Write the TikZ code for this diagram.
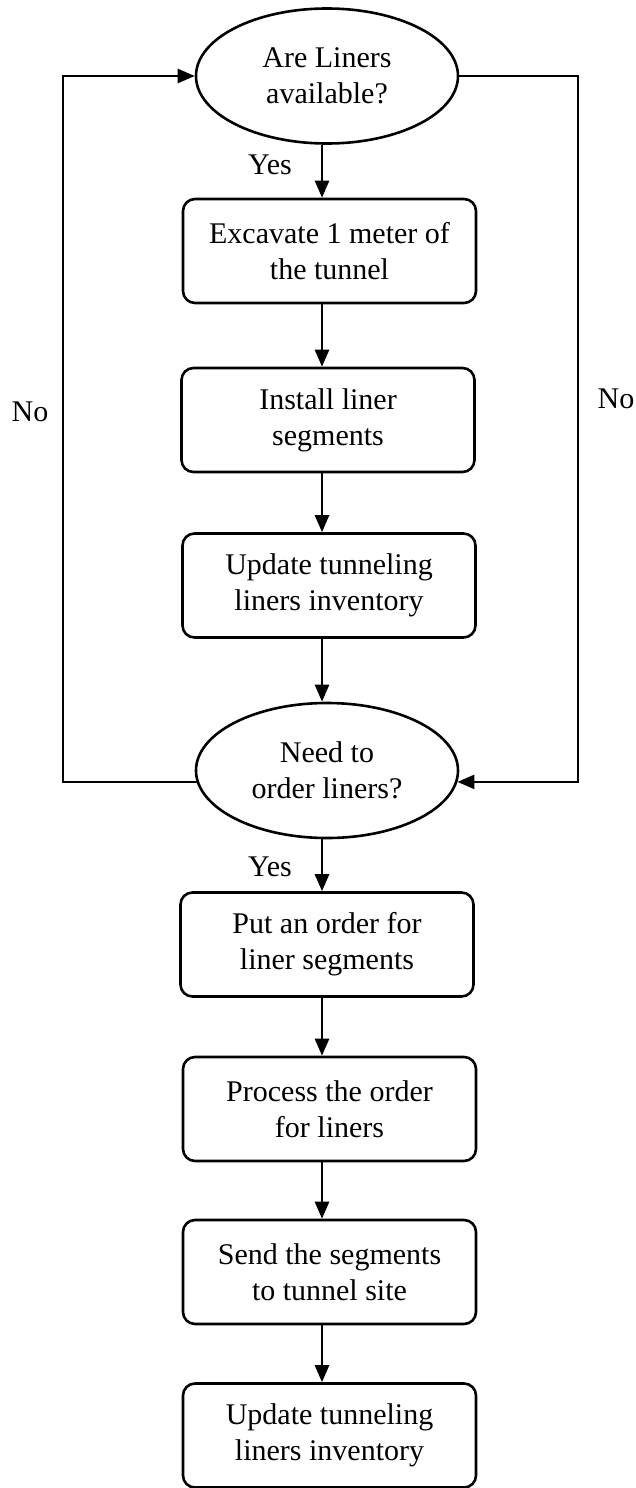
\documentclass[tikz,border=0pt]{standalone}
\usepackage{fontspec}
\setmainfont{Liberation Serif}
\usetikzlibrary{shapes.geometric,arrows.meta,calc}
\begin{document}
\begin{tikzpicture}[x=1pt,y=-1pt,
  txt/.style={font=\fontsize{30}{36}\selectfont},
  decision/.style={ellipse,draw,line width=2.6pt,minimum width=262pt,minimum height=135pt,inner sep=0pt,align=center,txt},
  proc/.style={rectangle,rounded corners=12pt,draw,line width=2.6pt,minimum width=293pt,minimum height=104pt,inner sep=0pt,align=center,txt},
  lbl/.style={txt,inner sep=0pt},
  flow/.style={line width=2.6pt,line join=miter,-{Triangle[length=17pt,width=14pt]}}]
\useasboundingbox (0,0) rectangle (636,1488);
\node[decision] (q1) at (327,76) {Are Liners\\available?};
\node[proc] (p1) at (329.5,251) {Excavate 1 meter of\\the tunnel};
\node[proc] (p2) at (328,420) {Install liner\\segments};
\node[proc] (p3) at (329,585.5) {Update tunneling\\liners inventory};
\node[decision] (q2) at (327,770.5) {Need to\\order liners?};
\node[proc] (p4) at (327,944.5) {Put an order for\\liner segments};
\node[proc] (p5) at (329.5,1109) {Process the order\\for liners};
\node[proc] (p6) at (329.5,1272) {Send the segments\\to tunnel site};
\node[proc] (p7) at (329.5,1435.5) {Update tunneling\\liners inventory};
\coordinate (ax) at (322,0);
\coordinate (L) at (63,0);
\coordinate (R) at (578,0);
\draw[flow] (q1.south -| ax) -- (p1.north -| ax);
\draw[flow] (p1.south -| ax) -- (p2.north -| ax);
\draw[flow] (p2.south -| ax) -- (p3.north -| ax);
\draw[flow] (p3.south -| ax) -- (q2.north -| ax);
\draw[flow] (q2.south -| ax) -- (p4.north -| ax);
\draw[flow] (p4.south -| ax) -- (p5.north -| ax);
\draw[flow] (p5.south -| ax) -- (p6.north -| ax);
\draw[flow] (p6.south -| ax) -- (p7.north -| ax);
\draw[flow] (q2.185) -- (q2.185 -| L) -- (q1.west -| L) -- (q1.west);
\draw[flow] (q1.east) -- (q1.east -| R) -- (q2.-5 -| R) -- (q2.-5);
\node[lbl] (y1) at (270,165) {Yes};
\node[lbl] (y2) at (270,867) {Yes};
\node[lbl] (n1) at (30,412) {No};
\node[lbl] (n2) at (616,399) {No};
\end{tikzpicture}
\end{document}
